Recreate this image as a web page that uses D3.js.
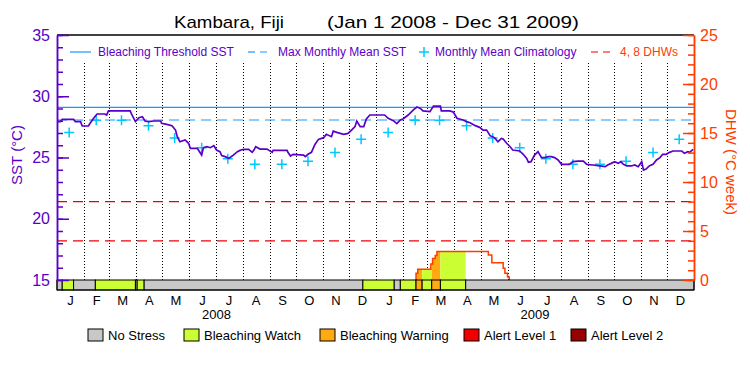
<!DOCTYPE html>
<html>
<head>
<meta charset="utf-8">
<script src="https://cdn.jsdelivr.net/npm/d3@7"></script>
<style>
  body { margin: 0; background: #fff; }
  svg { display: block; font-family: "Liberation Sans", Arial, sans-serif; }
</style>
</head>
<body>
<svg id="chart" width="750" height="375"></svg>
<script>
// ---- data ----
const monthLetters = ['J', 'F', 'M', 'A', 'M', 'J', 'J', 'A', 'S', 'O', 'N', 'D']
const years = ['2008', '2009']

// SST, day number counted from Jan 1 2008
const sstDays = [0, 4, 6, 19, 21, 27, 29, 36, 38, 42, 46, 55, 57, 59, 84, 86, 90, 94, 98, 101, 105, 111, 119, 120, 126, 132, 136, 138, 141, 147, 151, 153, 161, 163, 166, 168, 172, 176, 180, 183, 187, 189, 193, 197, 201, 207, 210, 214, 220, 224, 226, 228, 233, 241, 247,
  248, 264, 265, 268, 271, 283, 285, 288, 292, 296, 300, 306, 309, 315, 317, 321, 329, 334, 338, 342, 344, 348, 352, 355, 359, 376, 380, 386, 390, 394, 397, 403, 409, 413, 417, 420, 428, 432, 440, 441, 451, 455, 459, 466, 470, 474, 480, 485, 489,
  493, 497, 502, 506, 510, 512, 516, 520, 523, 531, 535, 539, 541, 544, 548, 552, 556, 560, 564, 567, 571, 575, 579, 588, 592, 598, 604, 608, 615, 623, 629, 632, 636, 640, 644, 647, 650, 654, 659, 663, 667, 671, 673, 676, 680, 684, 688, 692, 695, 699, 703, 707, 717, 720, 724, 726, 730]
const sstVals = [27.93, 27.93, 28.12, 28.12, 27.93, 27.93, 27.57, 27.57, 27.79, 28.20, 28.55, 28.55, 28.47, 28.80, 28.80, 28.47, 27.93, 28.25, 28.33, 27.98, 27.93, 27.98, 27.98, 27.79, 27.71, 27.60, 27.24, 26.70, 26.29, 26.43, 26.16, 25.75, 25.75, 25.53, 25.20, 25.80, 25.88, 25.80, 25.97, 25.61, 25.48, 25.15, 25.07, 24.93, 25.12, 25.48, 25.58, 25.67, 25.67, 25.42, 25.61, 25.88, 25.69, 25.69, 25.42,
  25.58, 25.58, 25.42, 25.12, 25.26, 25.20, 25.07, 25.26, 25.42, 26.07, 26.48, 26.62, 26.89, 26.70, 27.16, 27.05, 26.89, 26.97, 27.24, 27.52, 27.98, 27.52, 27.52, 28.14, 28.47, 28.47, 28.20, 28.01, 27.76, 28.06, 28.14, 28.47, 28.88, 29.12, 29.01, 28.80, 28.74, 29.20, 29.20, 28.80, 28.80, 28.69, 28.20, 28.06, 27.93, 27.84, 27.60, 27.46, 27.24,
  27.24, 26.78, 26.62, 26.29, 26.56, 26.51, 26.16, 25.88, 25.61, 25.53, 25.26, 24.93, 24.61, 24.66, 25.20, 25.48, 24.99, 24.99, 25.07, 25.07, 24.99, 24.80, 24.44, 24.44, 24.66, 24.71, 24.71, 24.44, 24.39, 24.31, 24.25, 24.39, 24.52, 24.66, 24.52, 24.66, 24.44, 24.31, 24.31, 24.39, 24.25, 24.66, 23.98, 24.06, 24.33, 24.44, 24.80, 24.99, 25.26, 25.26, 25.42, 25.53, 25.53, 25.34, 25.48, 25.42, 25.67]

// monthly mean climatology (Jan..Dec), plotted mid-month each year
const climVals = [27.05, 28.05, 28.05, 27.6, 26.6, 25.8, 24.9, 24.45, 24.45, 24.7, 25.4, 26.5]
const mmm = 28.06
const bleachThreshold = 29.1
const dhwLevels = [4, 8]

// degree heating weeks, step values
const dhwDays = [412, 414, 429, 431, 434, 436, 495, 499, 512, 514, 517, 519]
const dhwVals = [0.68, 1.09, 1.63, 2.2, 2.5, 2.9, 2.55, 1.77, 1.19, 0.68, 0.3, 0]

// bleaching stress bar: segment start day + level
const stressStart = [0, 6, 19, 44, 90, 92, 100, 351, 387, 394, 412, 419, 430, 440, 469]
const stressLevel = [0, 1, 0, 1, 0, 1, 0, 1, 0, 1, 2, 1, 2, 1, 0]
const stressNames = ['No Stress', 'Bleaching Watch', 'Bleaching Warning', 'Alert Level 1', 'Alert Level 2']
const stressColors = ['#c8c8c8', '#ccff33', '#ffaa11', '#f00000', '#960000']

// ---- chart ----
const PURPLE = '#5a00c8'
const RED = '#ff3c00'
const BLUE = '#1a96ff'
const CYAN = '#00c8ff'

const L = 57, R = 694, T = 35, B = 280, BB = 290
const start = new Date(Date.UTC(2008, 0, 1))
const end = new Date(Date.UTC(2010, 0, 1))
const totalDays = d3.utcDay.count(start, end)
const dayDate = d => d3.utcDay.offset(start, d)

const x = d3.scaleUtc().domain([start, end]).range([L, R])
const ySst = d3.scaleLinear().domain([15, 35]).range([B, T])
const yDhw = d3.scaleLinear().domain([0, 25]).range([B, T])

const svg = d3.select('#chart')

svg.append('defs').append('clipPath').attr('id', 'plot')
  .append('rect').attr('x', L).attr('y', T).attr('width', R - L).attr('height', B - T)

// title
svg.append('text').attr('x', 174).attr('y', 28).attr('font-size', 17)
  .attr('textLength', 110).attr('lengthAdjust', 'spacingAndGlyphs').text('Kambara, Fiji')
svg.append('text').attr('x', 327).attr('y', 28).attr('font-size', 17)
  .attr('textLength', 252).attr('lengthAdjust', 'spacingAndGlyphs').text('(Jan 1 2008 - Dec 31 2009)')

// month boundaries
const monthStarts = d3.utcMonth.range(start, end)
svg.append('g').selectAll('line')
  .data(monthStarts.slice(1))
  .join('line')
  .attr('x1', d => Math.round(x(d)) + 0.5).attr('x2', d => Math.round(x(d)) + 0.5)
  .attr('y1', 63).attr('y2', B)
  .attr('stroke', '#000').attr('stroke-width', 1).attr('stroke-dasharray', '1,2')

// month letters + years
svg.append('g').selectAll('text')
  .data(monthStarts)
  .join('text')
  .attr('x', d => (x(d) + x(d3.utcMonth.offset(d, 1))) / 2)
  .attr('y', 305)
  .attr('text-anchor', 'middle').attr('font-size', 13)
  .text(d => monthLetters[d.getUTCMonth()])

svg.append('g').selectAll('text')
  .data(years)
  .join('text')
  .attr('x', d => (x(new Date(Date.UTC(+d, 0, 1))) + x(new Date(Date.UTC(+d + 1, 0, 1)))) / 2)
  .attr('y', 319)
  .attr('text-anchor', 'middle').attr('font-size', 13)
  .text(d => d)

// reference lines
svg.append('line').attr('x1', L).attr('x2', R).attr('y1', ySst(bleachThreshold)).attr('y2', ySst(bleachThreshold))
  .attr('stroke', BLUE).attr('stroke-width', 1.2)
svg.append('line').attr('x1', L).attr('x2', R).attr('y1', ySst(mmm)).attr('y2', ySst(mmm))
  .attr('stroke', BLUE).attr('stroke-width', 1.2).attr('stroke-dasharray', '10,6')
svg.append('g').selectAll('line')
  .data(dhwLevels)
  .join('line')
  .attr('x1', L).attr('x2', R).attr('y1', d => yDhw(d)).attr('y2', d => yDhw(d))
  .attr('stroke', '#ee0000').attr('stroke-width', 1.2).attr('stroke-dasharray', '10,6')

// stress segments
const segs = stressStart.map((s, i) => ({
  s, e: i < stressStart.length - 1 ? stressStart[i + 1] : totalDays, level: stressLevel[i]
}))

// DHW filled under curve, coloured by stress level
const dhwPts = [{ d: dhwDays[0], v: 0 }].concat(dhwDays.map((d, i) => ({ d, v: dhwVals[i] })))
const dhwArea = d3.area().curve(d3.curveStepAfter)
  .x(p => x(dayDate(p.d))).y0(yDhw(0)).y1(p => yDhw(p.v))
const dhwLine = d3.line().curve(d3.curveStepAfter)
  .x(p => x(dayDate(p.d))).y(p => yDhw(p.v))

const defs = svg.select('defs')
segs.forEach((sg, i) => {
  if (sg.level < 1) return
  defs.append('clipPath').attr('id', 'seg' + i)
    .append('rect').attr('x', x(dayDate(sg.s))).attr('y', T)
    .attr('width', x(dayDate(sg.e)) - x(dayDate(sg.s))).attr('height', B - T)
  svg.append('path').datum(dhwPts).attr('d', dhwArea)
    .attr('fill', stressColors[sg.level]).attr('clip-path', 'url(#seg' + i + ')')
})
svg.append('path').datum(dhwPts).attr('d', dhwLine)
  .attr('fill', 'none').attr('stroke', RED).attr('stroke-width', 1.5)

// climatology crosses
const climPts = []
years.forEach(yr => climVals.forEach((v, m) => climPts.push({ date: new Date(Date.UTC(+yr, m, 15)), v })))
svg.append('g').selectAll('path')
  .data(climPts)
  .join('path')
  .attr('d', p => {
    const cx = x(p.date), cy = ySst(p.v)
    return `M${cx - 5},${cy}H${cx + 5}M${cx},${cy - 5}V${cy + 5}`
  })
  .attr('stroke', CYAN).attr('stroke-width', 1.5).attr('fill', 'none')

// SST line
const sst = sstDays.map((d, i) => ({ d, v: sstVals[i] }))
svg.append('path').datum(sst)
  .attr('clip-path', 'url(#plot)')
  .attr('d', d3.line().x(p => x(dayDate(p.d))).y(p => ySst(p.v)))
  .attr('fill', 'none').attr('stroke', PURPLE).attr('stroke-width', 1.7)

// stress bar
svg.append('g').selectAll('rect')
  .data(segs)
  .join('rect')
  .attr('x', sg => x(dayDate(sg.s))).attr('y', B)
  .attr('width', sg => x(dayDate(sg.e)) - x(dayDate(sg.s))).attr('height', BB - B)
  .attr('fill', sg => stressColors[sg.level])
  .attr('stroke', '#000').attr('stroke-width', 1)

// frame
svg.append('line').attr('x1', L).attr('x2', R).attr('y1', T).attr('y2', T).attr('stroke', '#000').attr('stroke-width', 1.5)
svg.append('line').attr('x1', L).attr('x2', R).attr('y1', BB).attr('y2', BB).attr('stroke', '#000').attr('stroke-width', 1.2)
svg.append('line').attr('x1', L).attr('x2', L).attr('y1', B).attr('y2', BB).attr('stroke', '#000')
svg.append('line').attr('x1', R).attr('x2', R).attr('y1', B).attr('y2', BB).attr('stroke', '#000')

// left axis (SST)
function styleAxis(g, color) {
  g.selectAll('path, line').attr('stroke', color).attr('stroke-width', 1.5)
  g.selectAll('text').attr('fill', color).attr('font-size', 16)
    .attr('font-family', '"Liberation Sans", Arial, sans-serif')
}
svg.append('g').attr('transform', `translate(${L},0)`)
  .call(d3.axisLeft(ySst).tickValues(d3.range(15, 36, 1)).tickSize(-6).tickSizeOuter(0).tickFormat(''))
  .call(g => styleAxis(g, PURPLE))
svg.append('g').attr('transform', `translate(${L},0)`)
  .call(d3.axisLeft(ySst).tickValues(d3.range(15, 36, 5)).tickSize(-12).tickSizeOuter(0).tickPadding(7))
  .call(g => styleAxis(g, PURPLE))

// right axis (DHW)
svg.append('g').attr('transform', `translate(${R},0)`)
  .call(d3.axisRight(yDhw).tickValues(d3.range(0, 26, 1)).tickSize(-6).tickSizeOuter(0).tickFormat(''))
  .call(g => styleAxis(g, RED))
svg.append('g').attr('transform', `translate(${R},0)`)
  .call(d3.axisRight(yDhw).tickValues(d3.range(0, 26, 5)).tickSize(-11).tickSizeOuter(0).tickPadding(6))
  .call(g => styleAxis(g, RED))

// axis titles
svg.append('text').attr('transform', 'translate(22,155) rotate(-90)')
  .attr('text-anchor', 'middle').attr('font-size', 15).attr('fill', PURPLE).text('SST (°C)')
svg.append('text').attr('transform', 'translate(726,162) rotate(90)')
  .attr('text-anchor', 'middle').attr('font-size', 15).attr('fill', RED).text('DHW (°C week)')

// top legend
const lg = svg.append('g')
lg.append('line').attr('x1', 70).attr('x2', 91).attr('y1', 52).attr('y2', 52).attr('stroke', BLUE).attr('stroke-width', 1.2)
lg.append('text').attr('x', 98).attr('y', 56).attr('font-size', 12).attr('fill', PURPLE).text('Bleaching Threshold SST')
lg.append('line').attr('x1', 248).attr('x2', 272).attr('y1', 52).attr('y2', 52).attr('stroke', BLUE).attr('stroke-width', 1.2).attr('stroke-dasharray', '7,5')
lg.append('text').attr('x', 278).attr('y', 56).attr('font-size', 12).attr('fill', PURPLE).text('Max Monthly Mean SST')
lg.append('path').attr('d', 'M419,52H429M424,47V57').attr('stroke', CYAN).attr('stroke-width', 1.5)
lg.append('text').attr('x', 435).attr('y', 56).attr('font-size', 12).attr('fill', PURPLE).text('Monthly Mean Climatology')
lg.append('line').attr('x1', 591).attr('x2', 615).attr('y1', 52).attr('y2', 52).attr('stroke', '#ee0000').attr('stroke-width', 1.2).attr('stroke-dasharray', '7,5')
lg.append('text').attr('x', 620).attr('y', 56).attr('font-size', 12).attr('fill', RED).text('4, 8 DHWs')

// bottom legend
const boxX = [88, 184, 320, 464, 571]
const bl = svg.append('g').selectAll('g')
  .data(stressNames)
  .join('g')
  .attr('transform', (d, i) => `translate(${boxX[i]},329)`)
bl.append('rect').attr('width', 15).attr('height', 12)
  .attr('fill', (d, i) => stressColors[i]).attr('stroke', '#000').attr('stroke-width', 1)
bl.append('text').attr('x', 20).attr('y', 11).attr('font-size', 13).text(d => d)
</script>
</body>
</html>
